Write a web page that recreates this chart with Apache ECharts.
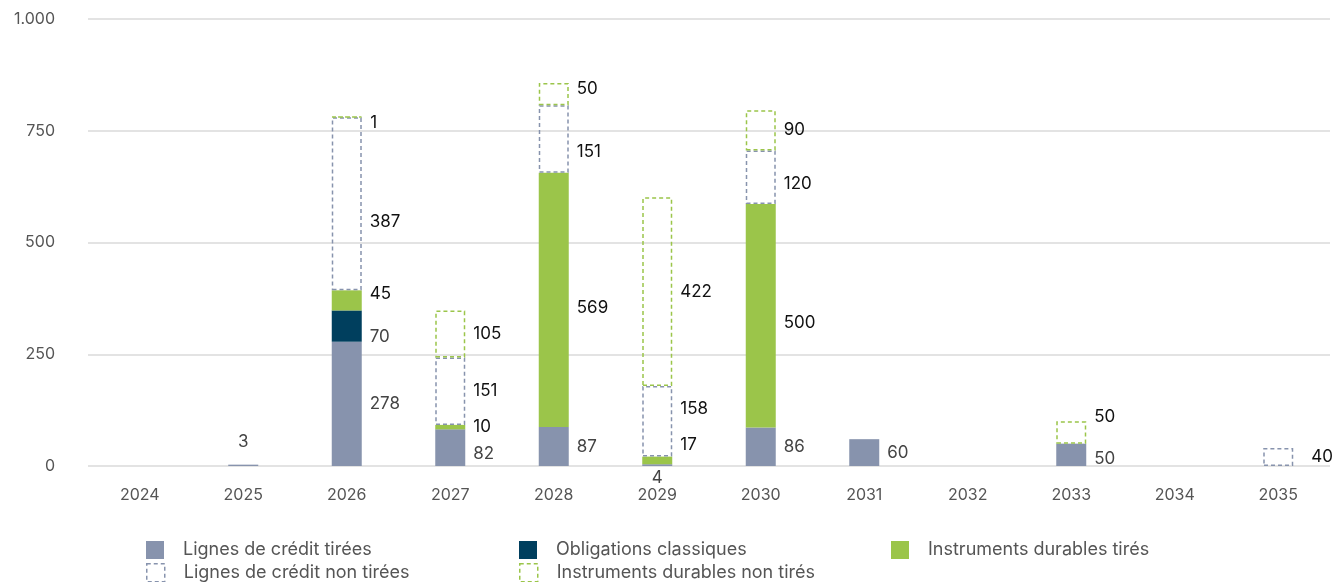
<!DOCTYPE html>
<html>
<head>
<meta charset="utf-8">
<script src="https://cdn.jsdelivr.net/npm/echarts@6/dist/echarts.min.js"></script>
<style>
  html, body { margin: 0; padding: 0; background: #fff; }
  #chart { width: 1334px; height: 582px; }
</style>
</head>
<body>
<div id="chart"></div>
<script>
// Échéancier de la dette (M€) par année
const years = ['2024', '2025', '2026', '2027', '2028', '2029', '2030', '2031', '2032', '2033', '2034', '2035'];
const yTicks = [0, 250, 500, 750, 1000];

const lignesTirees       = [null, 3, 278, 82, 87, 4, 86, 60, null, 50, null, null];
const obligations        = [null, null, 70, null, null, null, null, null, null, null, null, null];
const durablesTires      = [null, null, 45, 10, 569, 17, 500, null, null, null, null, null];
const lignesNonTirees    = [null, null, 387, 151, 151, 158, 120, null, null, null, null, 40];
const durablesNonTires   = [null, null, 1, 105, 50, 422, 90, null, null, 50, null, null];

const GREY = '#8793ad';
const NAVY = '#003f5e';
const GREEN = '#9bc54a';
const FONT = 'Inter, "Noto Sans", sans-serif';

const seriesDefs = [
  { key: 'lt',  name: 'Lignes de crédit tirées', data: lignesTirees, fill: GREY, labelColor: '#444' },
  { key: 'ob',  name: 'Obligations classiques', data: obligations, fill: NAVY, labelColor: '#444' },
  { key: 'dt',  name: 'Instruments durables tirés', data: durablesTires, fill: GREEN, labelColor: '#111' },
  { key: 'lnt', name: 'Lignes de crédit non tirées', data: lignesNonTirees, outline: GREY, labelColor: '#111' },
  { key: 'dnt', name: 'Instruments durables non tirés', data: durablesNonTires, outline: GREEN, labelColor: '#111' }
];

// hand-placed label shifts (px) so neighbouring labels stay readable
const labelNudge = {
  'dnt|2026': [0, 6], 'lnt|2026': [0, 18], 'dt|2026': [0, -6], 'ob|2026': [0, 11],
  'lt|2027': [0, 6],
  'lnt|2028': [0, 13], 'dt|2028': [0, 8], 'dnt|2028': [0, -5],
  'lnt|2029': [0, -12], 'dt|2029': [0, -16],
  'lnt|2030': [0, 7], 'dt|2030': [0, 7],
  'dnt|2033': [0, -16], 'lt|2033': [0, 4],
  'lnt|2035': [10, 0]
};

// does anything sit above series si at category ci?
function hasAbove(si, ci) {
  for (let k = si + 1; k < seriesDefs.length; k++) {
    if (seriesDefs[k].data[ci] != null) return true;
  }
  return false;
}

const series = seriesDefs.map((def, si) => {
  const itemStyle = def.outline
    ? { color: 'rgba(0,0,0,0)', borderColor: def.outline, borderWidth: 1.5, borderType: [4, 3] }
    : { color: def.fill };
  return {
    name: def.name,
    type: 'bar',
    stack: 'dette',
    barWidth: 30,
    itemStyle: itemStyle,
    label: {
      show: true,
      position: 'right',
      distance: 8,
      color: def.labelColor,
      fontFamily: FONT,
      fontSize: 17
    },
    data: def.data.map((v, ci) => {
      if (v == null) return v;
      // tiny segments at the foot of a stack get their label outside it
      if (si === 0 && v < 10) {
        return {
          value: v,
          label: hasAbove(si, ci)
            ? { position: 'bottom', distance: 3 }
            : { position: 'top', distance: 14 }
        };
      }
      const nudge = labelNudge[def.key + '|' + years[ci]];
      if (nudge) return { value: v, label: { offset: nudge } };
      return v;
    })
  };
});

// one legend block per entry, laid out in three columns
const legendCols = [146, 519, 891];
const legendRows = [541, 563];
const legends = seriesDefs.map((def, i) => {
  const col = i < 3 ? i : i - 3;
  const row = i < 3 ? 0 : 1;
  const iconStyle = def.outline
    ? { color: 'rgba(0,0,0,0)', borderColor: def.outline, borderWidth: 1.5, borderType: [4, 3] }
    : { color: def.fill, borderWidth: 0 };
  return {
    left: legendCols[col],
    top: legendRows[row],
    padding: 0,
    itemWidth: 18,
    itemHeight: 18,
    itemGap: 0,
    icon: 'rect',
    selectedMode: false,
    textStyle: { color: '#555', fontFamily: FONT, fontSize: 18, padding: [0, 0, 0, 14] },
    data: [{ name: def.name, itemStyle: iconStyle }]
  };
});

const chart = echarts.init(document.getElementById('chart'), null, { renderer: 'canvas' });
chart.setOption({
  animation: false,
  backgroundColor: '#fff',
  grid: { left: 88, right: 4, top: 19, bottom: 116, containLabel: false },
  legend: legends,
  xAxis: {
    type: 'category',
    data: years,
    axisLine: { show: false },
    axisTick: { show: false },
    axisLabel: { color: '#555', fontFamily: FONT, fontSize: 16, margin: 21 }
  },
  yAxis: {
    type: 'value',
    min: yTicks[0],
    max: yTicks[yTicks.length - 1],
    interval: yTicks[1] - yTicks[0],
    axisLine: { show: false },
    axisTick: { show: false },
    splitLine: { lineStyle: { color: '#e3e3e3', width: 2 } },
    axisLabel: {
      color: '#555',
      fontFamily: FONT,
      fontSize: 16,
      margin: 33,
      formatter: v => v.toString().replace(/\B(?=(\d{3})+(?!\d))/g, '.')
    }
  },
  series: series
});
</script>
</body>
</html>
